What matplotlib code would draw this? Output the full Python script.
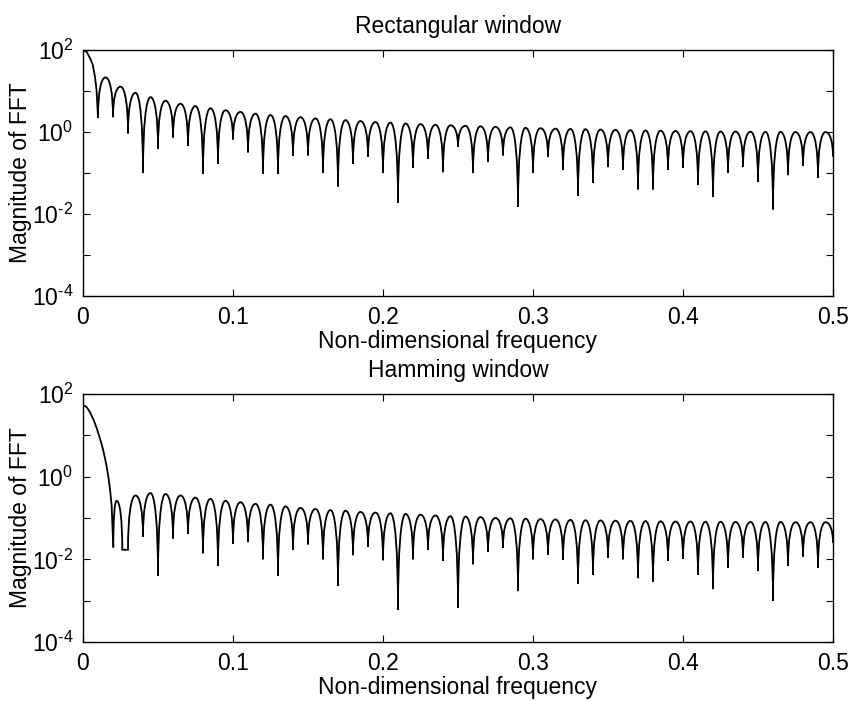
import numpy as np
import matplotlib

matplotlib.use("Agg")
import matplotlib.pyplot as plt
from matplotlib.path import Path
from matplotlib.patches import PathPatch

plt.rcParams["font.family"] = ["Liberation Sans", "DejaVu Sans"]
plt.rcParams["mathtext.fontset"] = "custom"
plt.rcParams["mathtext.rm"] = "Liberation Sans"
plt.rcParams["mathtext.it"] = "Liberation Sans:italic"
plt.rcParams["mathtext.bf"] = "Liberation Sans:bold"

# window length -> nulls every 1/N in frequency
N = 100
null_bins = np.arange(1, 51)

# ---- Rectangular window ----
rect_main_f = [0.0, 0.0025, 0.0047, 0.0065, 0.008, 0.009, 0.0096, 0.01]
rect_main_mag = [100, 90, 63, 44, 22, 11, 4.5, 2.3]

# value at each null k = 1..50 (k=50 is the end of the curve at f=0.5)
rect_dips = [2.3, 2.3, 0.93, 0.1, 0.39, 0.74, 0.46, 0.095, 0.17, 0.66,
             0.32, 0.095, 0.095, 0.26, 0.27, 0.1, 0.047, 0.17, 0.25, 0.1,
             0.019, 0.135, 0.22, 0.105, 0.44, 0.1, 0.19, 0.27, 0.015, 0.1,
             0.25, 0.12, 0.028, 0.058, 0.14, 0.12, 0.04, 0.04, 0.12, 0.135,
             0.051, 0.026, 0.1, 0.14, 0.062, 0.013, 0.089, 0.15, 0.077, 0.25]
# side-lobe peaks, lobe k between null k and null k+1 (k = 1..49)
rect_peaks = [21.5, 12.8, 9.1, 7.1, 5.8, 4.9, 4.3, 3.8, 3.4, 3.1,
              2.8, 2.6, 2.45, 2.3, 2.15, 2.05, 1.95, 1.85, 1.75, 1.7,
              1.62, 1.56, 1.5, 1.46, 1.42, 1.38, 1.34, 1.3, 1.27, 1.24,
              1.21, 1.19, 1.17, 1.15, 1.13, 1.11, 1.09, 1.08, 1.06, 1.05,
              1.04, 1.03, 1.03, 1.02, 1.01, 1.01, 1.0, 1.0, 1.0]

# ---- Hamming window ----
hamm_main_f = [0.0, 0.0025, 0.0047, 0.007, 0.0091, 0.0115, 0.0136, 0.0155, 0.0169,
               0.018, 0.0191, 0.0202]
hamm_main_mag = [54, 48, 36, 24, 15, 8, 4.2, 2.0, 1.0, 0.5, 0.2, 0.02]

# narrow first side lobe and flat-bottomed null before f = 0.03
hamm_edge_f = [0.0202, 0.0224, 0.0262, 0.03]
hamm_edge_mag = [0.02, 0.26, 0.017, 0.017]
hamm_edge_kind = ["d", "p", "d", "d"]

# value at nulls k = 4..50
hamm_dips = [0.035, 0.004, 0.032, 0.041, 0.014, 0.0069, 0.024, 0.026, 0.01, 0.004,
             0.017, 0.023, 0.01, 0.0023, 0.0126, 0.02, 0.0095, 0.0006, 0.01, 0.017,
             0.0092, 0.00068, 0.0076, 0.015, 0.019, 0.0017, 0.01, 0.013, 0.0098, 0.0026,
             0.0042, 0.011, 0.01, 0.0035, 0.0029, 0.0092, 0.0102, 0.0042, 0.0019, 0.0063,
             0.011, 0.0052, 0.001, 0.0069, 0.0117, 0.0063, 0.025]
# side-lobe peaks, lobes k = 3..49
hamm_peaks = [0.35, 0.40, 0.38, 0.35, 0.31, 0.29, 0.26, 0.24, 0.22, 0.21,
              0.19, 0.175, 0.165, 0.155, 0.15, 0.14, 0.135, 0.13, 0.125, 0.12,
              0.115, 0.11, 0.108, 0.105, 0.1, 0.098, 0.096, 0.094, 0.092, 0.09,
              0.088, 0.087, 0.086, 0.085, 0.084, 0.083, 0.082, 0.082, 0.081, 0.081,
              0.08, 0.08, 0.08, 0.08, 0.079, 0.079, 0.079]

x_ticks = [0, 0.1, 0.2, 0.3, 0.4, 0.5]
x_tick_labels = ["0", "0.1", "0.2", "0.3", "0.4", "0.5"]
y_ticks = [1e-4, 1e-3, 1e-2, 1e-1, 1e0, 1e1, 1e2]
y_tick_labels = [r"$10^{\text{-}4}$", "", r"$10^{\text{-}2}$", "", "$10^{0}$", "", "$10^{2}$"]

FS = 16.5
LW = 1.3
BEND = 0.6  # how square the lobes are drawn (bezier handle length)


def lobe_path(node_f, node_v, node_kind):
    """Smooth lobes: flat at the peaks, vertical into the nulls (curves in log space)."""
    verts = [(node_f[0], node_v[0])]
    codes = [Path.MOVETO]
    for i in range(1, len(node_f)):
        fa, va, ka = node_f[i - 1], node_v[i - 1], node_kind[i - 1]
        fb, vb, kb = node_f[i], node_v[i], node_kind[i]
        if ka == kb:
            verts.append((fb, vb))
            codes.append(Path.LINETO)
            continue
        if ka == "p":
            c1 = (fa + BEND * (fb - fa), va)
            c2 = (fb, vb * (va / vb) ** BEND)
        else:
            c1 = (fa, va * (vb / va) ** BEND)
            c2 = (fb - BEND * (fb - fa), vb)
        verts += [c1, c2, (fb, vb)]
        codes += [Path.CURVE4] * 3
    return Path(verts, codes)


def interleave(dip_f, dip_v, peak_f, peak_v, start_with_dip=True):
    n = len(dip_f) + len(peak_f)
    f = np.empty(n)
    v = np.empty(n)
    kind = np.empty(n, dtype=object)
    a, b = (0, 1) if start_with_dip else (1, 0)
    f[a::2], v[a::2], kind[a::2] = dip_f, dip_v, "d"
    f[b::2], v[b::2], kind[b::2] = peak_f, peak_v, "p"
    return f, v, list(kind)


def style_axes(ax, title, xlabel):
    ax.set_yscale("log")
    ax.set_xlim(0, 0.5)
    ax.set_ylim(1e-4, 1e2)
    ax.set_xticks(x_ticks, x_tick_labels)
    ax.set_yticks(y_ticks, y_tick_labels)
    ax.minorticks_off()
    ax.tick_params(direction="in", top=True, right=True, length=5, width=0.8,
                   labelsize=FS)
    ax.tick_params(axis="x", pad=7)
    ax.tick_params(axis="y", pad=7)
    for spine in ax.spines.values():
        spine.set_linewidth(1.0)
    ax.set_title(title, fontsize=FS, pad=12)
    ax.set_xlabel(xlabel, fontsize=FS, labelpad=1)
    ax.set_ylabel("Magnitude of FFT", fontsize=FS, labelpad=0)


fig = plt.figure(figsize=(8.52, 7.01), dpi=100)
ax1 = fig.add_axes([0.0974, 0.5777, 0.8803, 0.3509])
ax2 = fig.add_axes([0.0974, 0.0842, 0.8803, 0.3538])

# rectangular
ax1.plot(rect_main_f, rect_main_mag, color="black", lw=LW)
rect_null_f = null_bins / N
rect_peak_f = (null_bins[:-1] + 0.5) / N
f, v, kind = interleave(rect_null_f, rect_dips, rect_peak_f, rect_peaks)
ax1.add_patch(PathPatch(lobe_path(f, v, kind), facecolor="none", edgecolor="black", lw=LW))
style_axes(ax1, "Rectangular window", "Non-dimensional frequency")

# hamming
ax2.plot(hamm_main_f, hamm_main_mag, color="black", lw=LW)
hamm_peak_f = (np.arange(3, 50) + 0.5) / N
hamm_null_f = np.arange(4, 51) / N
f, v, kind = interleave(hamm_null_f, hamm_dips, hamm_peak_f, hamm_peaks, start_with_dip=False)
f = np.concatenate([hamm_edge_f, f])
v = np.concatenate([hamm_edge_mag, v])
kind = hamm_edge_kind + kind
ax2.add_patch(PathPatch(lobe_path(f, v, kind), facecolor="none", edgecolor="black", lw=LW))
style_axes(ax2, "Hamming window", "Non-dimensional frequency")

fig.savefig("out.png", dpi=100)
